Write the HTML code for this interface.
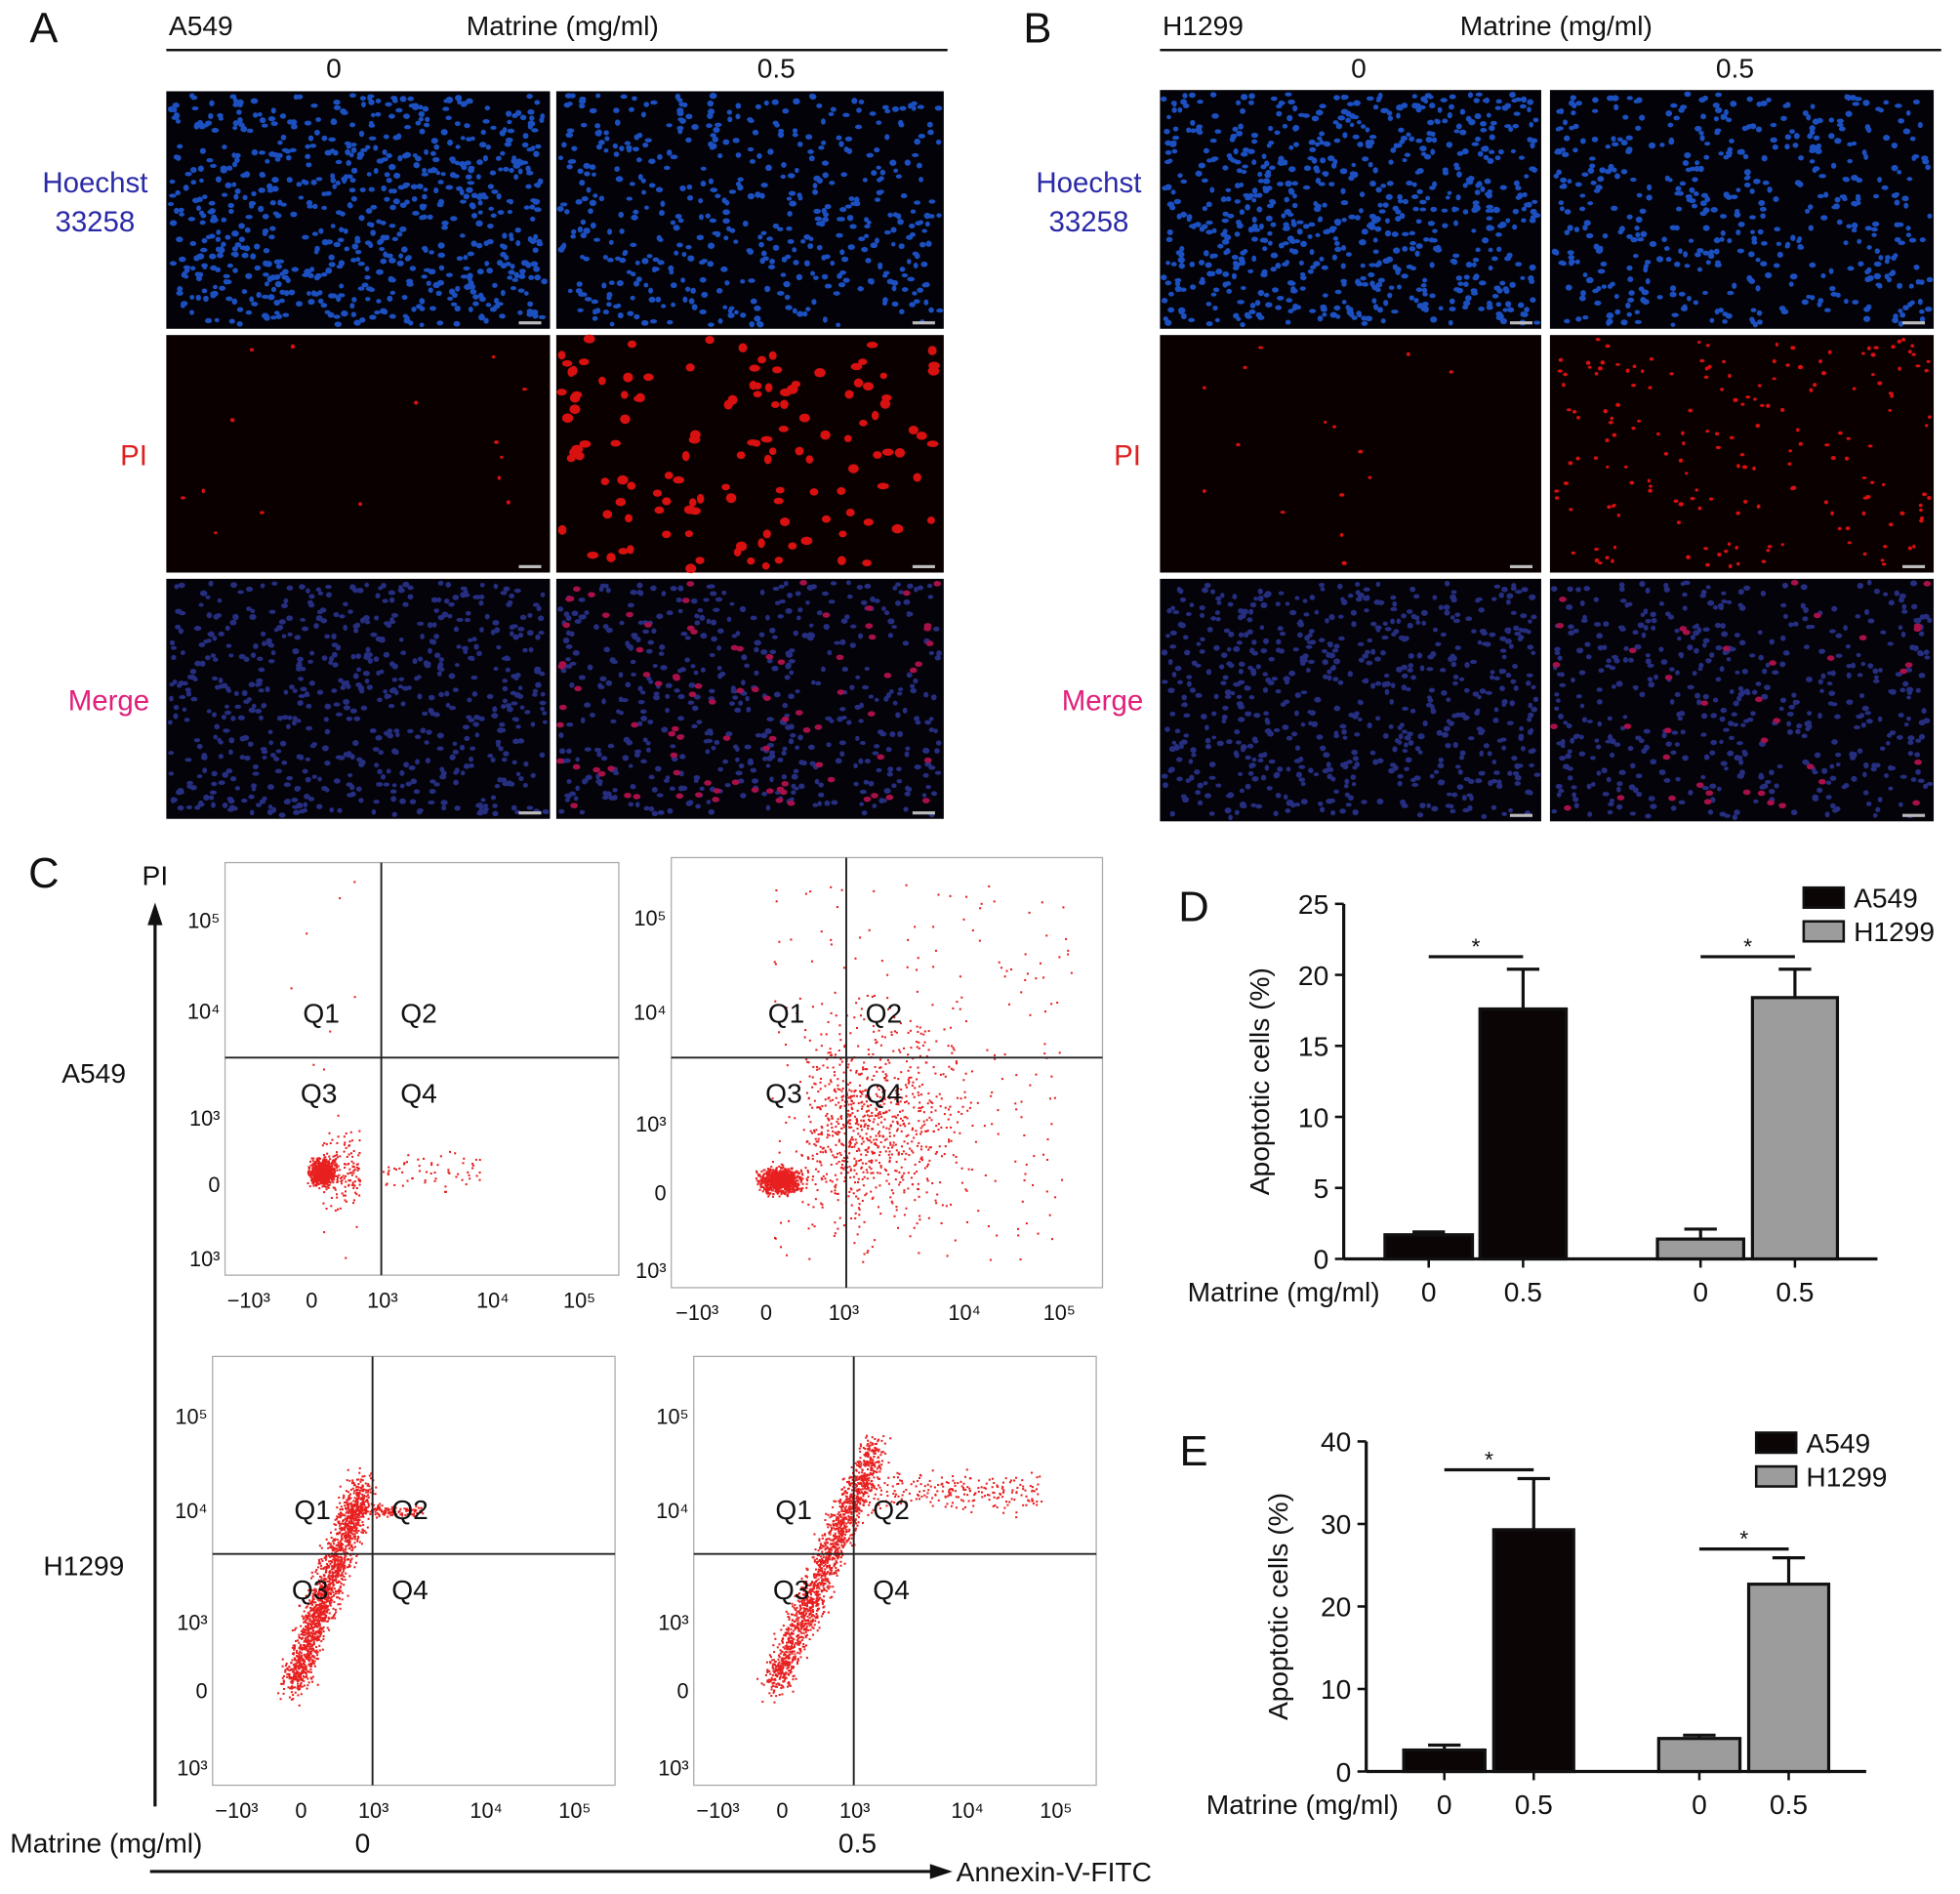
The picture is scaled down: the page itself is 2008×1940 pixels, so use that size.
<!DOCTYPE html>
<html><head><meta charset="utf-8"><style>
html,body{margin:0;padding:0;background:#fff}
svg{display:block}
text{font-family:"Liberation Sans",Arial,sans-serif}
</style></head><body>
<svg id="fig" width="2008" height="1940" viewBox="0 0 1568 1515" xmlns="http://www.w3.org/2000/svg">
<rect width="1568" height="1515" fill="#fff"/>
<g id="root"></g>
</svg>
<script>
// ---- Chart data ----
const categoriesD = ["A549 0","A549 0.5","H1299 0","H1299 0.5"];
const valuesD = [1.7, 17.6, 1.4, 18.4];
const errorsD = [0.2, 2.8, 0.7, 2.0];
const ticksD = [0,5,10,15,20,25];
const categoriesE = ["A549 0","A549 0.5","H1299 0","H1299 0.5"];
const valuesE = [2.6, 29.3, 4.0, 22.7];
const errorsE = [0.6, 6.2, 0.4, 3.2];
const ticksE = [0,10,20,30,40];
const doseLabels = ["0","0.5","0","0.5"];

const NS="http://www.w3.org/2000/svg";
const root=document.getElementById('root');
function el(tag,attrs,parent){const e=document.createElementNS(NS,tag);for(const k in attrs)e.setAttribute(k,attrs[k]);(parent||root).appendChild(e);return e;}
function txt(x,y,s,size,fill,anchor,name,parent){const t=el('text',{x:x,y:y,'font-size':size,fill:fill||'#111','text-anchor':anchor||'start'},parent);t.textContent=s;


return t;}

let seed=12345;function rnd(){seed=(seed*1103515245+12345)%2147483648;return seed/2147483648;}
function gauss(){return (rnd()+rnd()+rnd()+rnd()-2)/1.2;}

// ---- Panel A & B ----
function micro(ox,name,rows,cols,d0,d1){
  const g=el('g',{});
  
  
  txt(ox+35,34,name==='panel-a'?'A':'B',34,'#111','middle',name+'-letter',g);
  txt(ox+135,28,name==='panel-a'?'A549':'H1299',22,'#111','start',name+'-cell-line',g);
  txt(ox+450,28,'Matrine (mg/ml)',22,'#111','middle',name+'-treatment-title',g);
  const ln=el('line',{x1:ox+133,y1:40,x2:ox+758,y2:40,stroke:'#111','stroke-width':2},g);
  
  
  txt(d0,62,'0',22,'#111','middle',name+'-dose-0',g);
  txt(d1,62,'0.5',22,'#111','middle',name+'-dose-0.5',g);
  txt(ox+76,154,'Hoechst',23,'#2a2aa8','middle',name+'-hoechst-label',g);
  txt(ox+76,185,'33258',23,'#2a2aa8','middle',name+'-hoechst-label-2',g);
  txt(ox+107,372,'PI',23,'#e02020','middle',name+'-pi-label',g);
  txt(ox+87,568,'Merge',23,'#e0207a','middle',name+'-merge-label',g);
  const types=['hoechst','pi','merge'];
  for(let r=0;r<3;r++)for(let c=0;c<2;c++){
    const [x,y,w,h]=[ox+cols[c][0],rows[r][0],cols[c][1]-cols[c][0],rows[r][1]-rows[r][0]];
    const im=el('g',{},g);
    
    
    el('rect',{x:x,y:y,width:w,height:h,fill:types[r]==='hoechst'?'#020208':(types[r]==='pi'?'#0a0000':'#04030a')},im);
    let n, col, rad;
    if(types[r]==='hoechst'){n=c?500:750;col='#1c50c0';rad=2.3;}
    else if(types[r]==='pi'){n=c?(name==='panel-a'?130:180):15;col='#d81010';rad=c&&name==='panel-a'?3.6:1.6;}
    else {n=c?500:650;col='#262e80';rad=2.2;}
    let s='';
    for(let i=0;i<n;i++){const cx=x+3+rnd()*(w-6),cy=y+3+rnd()*(h-6);s+=`<ellipse cx="${cx.toFixed(1)}" cy="${cy.toFixed(1)}" rx="${(rad*(0.8+rnd()*0.5)).toFixed(1)}" ry="${(rad*(0.7+rnd()*0.4)).toFixed(1)}" fill="${col}"/>`;}
    if(types[r]==='merge'&&c){for(let i=0;i<(name==='panel-a'?90:40);i++){const cx=x+3+rnd()*(w-6),cy=y+3+rnd()*(h-6);s+=`<ellipse cx="${cx.toFixed(1)}" cy="${cy.toFixed(1)}" rx="3" ry="2.2" fill="#a8104a"/>`;}}
    im.insertAdjacentHTML('beforeend',s);
    el('rect',{x:x+w-25,y:y+h-6,width:18,height:2.5,fill:'#bbb'},im);
  }
}
micro(0,'panel-a',[[73,263],[268,458],[463,655]],[[133,440],[445,755]],267,621);
micro(795,'panel-b',[[72,263],[268,458],[463,657]],[[133,438],[445,752]],1087,1388);

// ---- Panel C ----
const gC=el('g',{});


txt(35,710,'C',34,'#111','middle','panel-c-letter',gC);
const ya=el('line',{x1:124,y1:1445,x2:124,y2:735,stroke:'#111','stroke-width':2.5},gC);

el('polygon',{points:'124,722 118,740 130,740',fill:'#111'},gC);
txt(124,708,'PI',22,'#111','middle','pi-axis-title',gC);
const xa=el('line',{x1:120,y1:1497,x2:745,y2:1497,stroke:'#111','stroke-width':2.5},gC);

el('polygon',{points:'762,1497 744,1491 744,1503',fill:'#111'},gC);
txt(765,1505,'Annexin-V-FITC',22,'#111','start','annexin-axis-title',gC);
txt(8,1482,'Matrine (mg/ml)',22,'#111','start','panel-c-dose-title',gC);
txt(290,1482,'0',22,'#111','middle','panel-c-dose-0',gC);
txt(686,1482,'0.5',22,'#111','middle','panel-c-dose-0.5',gC);
txt(75,866,'A549',22,'#111','middle','panel-c-a549-label',gC);
txt(67,1260,'H1299',22,'#111','middle','panel-c-h1299-label',gC);

function flow(x0,y0,x1,y1,qx,qy,name,kind){
  const g=el('g',{},gC);
  
  
  el('rect',{x:x0,y:y0,width:x1-x0,height:y1-y0,fill:'#fff',stroke:'#aaa','stroke-width':1},g);
  let s='';const cx=x0+(qx-x0)*0.62, cy=y0+(y1-y0)*0.75;
  const N=kind==='a0'?900:kind==='a1'?2000:1800;
  for(let i=0;i<N;i++){
    let px,py;
    if(kind==='a0'){px=cx+gauss()*10;py=cy+gauss()*10; if(i%4==0){px=cx+rnd()*30;py=cy+gauss()*30;} if(i%12==0){px=qx+rnd()*80;py=cy+gauss()*15;} if(i%60==0){px=cx+gauss()*30;py=y0+rnd()*(y1-y0);}}
    else if(kind==='a1'){ if(i<900){px=cx+gauss()*16;py=cy+gauss()*10;} else { px=qx-40+Math.abs(gauss())*110+rnd()*40; py=cy-10+gauss()*60-Math.abs(gauss())*90; if(i%5==0){px=qx-60+rnd()*(x1-qx+40);py=y0+20+rnd()*(y1-y0-40);} } }
    else if(kind==='h0'){ const t=rnd(); px=cx-15+t*55+gauss()*12; py=y1-80-t*160+gauss()*14; if(i%12==0){px=qx-20+rnd()*60;py=qy-35+gauss()*5;} }
    else { const t=rnd(); px=cx-15+t*80+gauss()*12; py=y1-80-t*190+gauss()*14; if(i%7==0){px=qx+rnd()*150;py=qy-50+gauss()*15;} }
    if(px>x0+2&&px<x1-2&&py>y0+2&&py<y1-2) s+=`<rect x="${px.toFixed(1)}" y="${py.toFixed(1)}" width="1.6" height="1.6" fill="#e82020"/>`;
  }
  g.insertAdjacentHTML('beforeend',s);
  el('line',{x1:qx,y1:y0,x2:qx,y2:y1,stroke:'#222','stroke-width':1.5},g);
  el('line',{x1:x0,y1:qy,x2:x1,y2:qy,stroke:'#222','stroke-width':1.5},g);
  const qs=[['Q1',qx-48,qy-28],['Q2',qx+30,qy-28],['Q3',qx-50,qy+36],['Q4',qx+30,qy+36]];
  qs.forEach(q=>txt(q[1],q[2],q[0],22,'#111','middle',name+'-'+q[0].toLowerCase(),g));
  const H=y1-y0; const ys=[['10⁵',0.14],['10⁴',0.36],['10³',0.62],['0',0.78],['10³',0.96]];
  ys.forEach((t,i)=>txt(x0-4,y0+H*t[1]+6,t[0],17,'#111','end',name+'-y-tick-'+i,g));
  const W=x1-x0; const xs=[['−10³',0.06],['0',0.22],['10³',0.4],['10⁴',0.68],['10⁵',0.9]];
  xs.forEach((t,i)=>txt(x0+W*t[1],y1+26,t[0],17,'#111','middle',name+'-x-tick-'+i,g));
}
flow(180,690,495,1020,305,846,'flow-a549-control','a0');
flow(537,686,882,1030,677,846,'flow-a549-treated','a1');
flow(170,1085,492,1428,298,1243,'flow-h1299-control','h0');
flow(555,1085,877,1428,683,1243,'flow-h1299-treated','h1');

// ---- Bar charts ----
function barChart(opts){
  const g=el('g',{});
  
  
  const {ax,y0,yTop,max,xEnd,bars,values,errors,ticks}=opts;
  const y=v=>y0-(v/max)*(y0-yTop);
  txt(opts.letterX,opts.letterY,opts.letter,34,'#111','middle',opts.name+'-letter',g);
  const yl=el('line',{x1:ax,y1:y0,x2:ax,y2:yTop,stroke:'#111','stroke-width':2.5},g);
  
  const xl=el('line',{x1:ax,y1:y0,x2:xEnd,y2:y0,stroke:'#111','stroke-width':2.5},g);
  
  ticks.forEach(t=>{el('line',{x1:ax-7,y1:y(t),x2:ax,y2:y(t),stroke:'#111','stroke-width':2},g);
    txt(ax-12,y(t)+8,String(t),22,'#111','end',opts.name+'-y-tick-'+t,g);});
  const yt=txt(0,0,'Apoptotic cells (%)',22,'#111','middle',opts.name+'-y-axis-title',g);
  yt.setAttribute('transform',`translate(${opts.ytX},${(y0+yTop)/2}) rotate(-90)`);
  values.forEach((v,i)=>{
    const [bx,bw]=bars[i]; const fill=i<2?'#0c0506':'#9c9c9c';
    const top=y(v), eTop=y(v+errors[i]), cxm=bx+bw/2;
    const el1=el('line',{x1:cxm,y1:top,x2:cxm,y2:eTop,stroke:'#111','stroke-width':2.5},g);
    
    el('line',{x1:cxm-13,y1:eTop,x2:cxm+13,y2:eTop,stroke:'#111','stroke-width':2.5},g);
    const r=el('rect',{x:bx,y:top,width:bw,height:y0-top,fill:fill,stroke:'#111','stroke-width':2.5},g);
    
    
    el('line',{x1:cxm,y1:y0,x2:cxm,y2:y0+7,stroke:'#111','stroke-width':2},g);
    txt(cxm,y0+34,doseLabels[i],22,'#111','middle',opts.name+'-x-label-'+i,g);
  });
  txt(opts.matX,y0+34,'Matrine (mg/ml)',22,'#111','start',opts.name+'-x-title',g);
  [[0,1],[2,3]].forEach((p,k)=>{
    const x1=bars[p[0]][0]+bars[p[0]][1]/2, x2=bars[p[1]][0]+bars[p[1]][1]/2;
    const sy=y(Math.max(values[p[1]]+errors[p[1]],values[p[0]]+errors[p[0]]))-opts.sigGap;
    const sl=el('line',{x1:x1,y1:sy,x2:x2,y2:sy,stroke:'#111','stroke-width':2.5},g);
    
    txt((x1+x2)/2,sy-2,'*',18,'#111','middle',opts.name+'-significance-star-'+k,g);
  });
  const lg=el('g',{},g);
  
  
  el('rect',{x:opts.lgX,y:opts.lgY,width:32,height:16,fill:'#0c0506',stroke:'#111','stroke-width':2},lg);
  txt(opts.lgX+40,opts.lgY+16,'A549',22,'#111','start',opts.name+'-legend-a549',lg);
  el('rect',{x:opts.lgX,y:opts.lgY+27,width:32,height:16,fill:'#9c9c9c',stroke:'#111','stroke-width':2},lg);
  txt(opts.lgX+40,opts.lgY+43,'H1299',22,'#111','start',opts.name+'-legend-h1299',lg);
}
barChart({name:'chart-d',letter:'D',letterX:955,letterY:737,ax:1075,y0:1007,yTop:723,max:25,xEnd:1502,
  bars:[[1108,70],[1184,69],[1326,69],[1402,68]],values:valuesD,errors:errorsD,ticks:ticksD,cats:categoriesD,
  ytX:1015,matX:950,sigGap:10,lgX:1443,lgY:710});
barChart({name:'chart-e',letter:'E',letterX:955,letterY:1172,ax:1093,y0:1417,yTop:1153,max:40,xEnd:1493,
  bars:[[1123,65],[1195,64],[1327,65],[1399,64]],values:valuesE,errors:errorsE,ticks:ticksE,cats:categoriesE,
  ytX:1030,matX:965,sigGap:7,lgX:1405,lgY:1146});
</script>
</body></html>
